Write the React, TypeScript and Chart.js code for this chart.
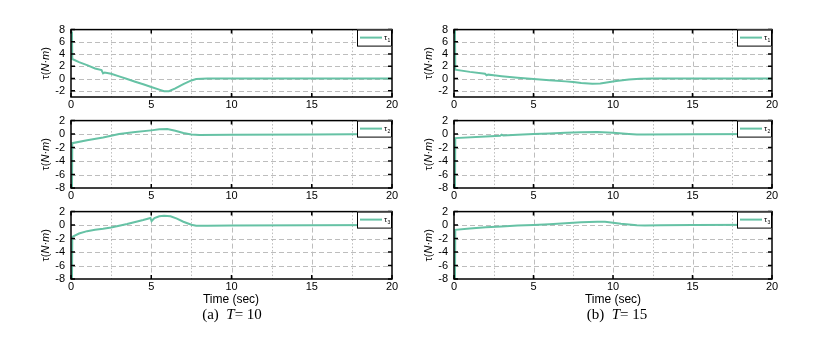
import React, { useEffect, useRef } from "react";
import { Chart, registerables } from "chart.js";
Chart.register(...registerables);

// ---- data ----
const X_TICKS = [0, 5, 10, 15, 20];
const X_GRID = [2.5, 5, 7.5, 10, 12.5, 15, 17.5];
const Y_TICKS_TAU1 = [-2, 0, 2, 4, 6, 8];
const Y_TICKS_TAU23 = [-8, -6, -4, -2, 0, 2];

// T = 10
const T10_TAU1_TIME = [0.06, 0.08, 0.5, 1, 1.5, 1.9, 2.0, 2.1, 2.5, 3, 3.5, 4, 4.5, 5, 5.5, 5.8, 6.1, 6.5, 7, 7.5, 7.8, 8.5, 10, 15, 20];
const T10_TAU1_VAL = [7.7, 3.2, 2.7, 2.2, 1.65, 1.4, 0.85, 1.0, 0.8, 0.37, -0.06, -0.5, -0.93, -1.36, -1.8, -2.05, -2.05, -1.6, -0.9, -0.3, -0.05, 0.0, 0.0, 0.0, 0.0];

const T10_TAU2_TIME = [0.06, 0.08, 1, 2, 3, 4, 5, 5.5, 6, 6.5, 7, 7.5, 8, 10, 15, 20];
const T10_TAU2_VAL = [-8.6, -1.35, -0.9, -0.5, 0.0, 0.3, 0.55, 0.7, 0.75, 0.5, 0.15, -0.05, -0.12, -0.1, -0.05, 0.0];

const T10_TAU3_TIME = [0.06, 0.08, 0.5, 1, 1.5, 2, 2.5, 3, 3.5, 4, 4.5, 4.95, 5.02, 5.2, 5.5, 5.8, 6.2, 6.6, 7, 7.5, 7.8, 8.5, 10, 15, 20];
const T10_TAU3_VAL = [-8.6, -1.75, -1.25, -0.9, -0.7, -0.55, -0.35, -0.1, 0.15, 0.45, 0.75, 1.05, 0.6, 1.05, 1.3, 1.4, 1.3, 0.95, 0.5, 0.05, -0.1, -0.1, -0.08, -0.03, 0.0];

// T = 15
const T15_TAU1_TIME = [0.06, 0.08, 1, 1.95, 2.05, 2.15, 2.5, 3, 4, 5, 6, 7, 7.5, 8, 8.7, 9.2, 9.7, 10.2, 11, 11.7, 12.5, 15, 20];
const T15_TAU1_VAL = [8.2, 1.45, 1.1, 0.8, 0.55, 0.65, 0.55, 0.4, 0.15, -0.05, -0.25, -0.45, -0.57, -0.7, -0.82, -0.8, -0.6, -0.4, -0.15, -0.03, 0.0, 0.0, 0.0];

const T15_TAU2_TIME = [0.06, 0.08, 2, 2.9, 3.0, 3.1, 4, 5, 6, 7, 8, 9, 10, 11, 11.5, 12, 15, 20];
const T15_TAU2_VAL = [-8.6, -0.6, -0.35, -0.25, -0.08, -0.22, -0.1, 0.0, 0.1, 0.2, 0.27, 0.3, 0.2, 0.02, -0.05, -0.05, -0.03, 0.0];

const T15_TAU3_TIME = [0.06, 0.08, 1, 2, 3, 4, 5, 6, 7, 8, 9, 9.5, 10, 10.5, 11, 11.5, 12, 13, 15, 20];
const T15_TAU3_VAL = [-8.6, -0.7, -0.5, -0.33, -0.2, -0.08, 0.0, 0.12, 0.28, 0.42, 0.5, 0.48, 0.35, 0.2, 0.08, -0.02, -0.05, -0.03, 0.0, 0.05];

const LINE_COLOR = "#66c2a5";
const FONT = "'Liberation Sans', Arial, sans-serif";

type PanelCfg = {
  left: number;
  top: number;
  times: number[];
  vals: number[];
  yMin: number;
  yMax: number;
  yTicks: number[];
  sub: string;
};

const COL_LEFT = [0, 383];
const ROW_TOP = [25, 116, 207];
const PAD_RIGHT = [18, 21];

const PANELS: PanelCfg[] = [
  { left: 0, top: 0, times: T10_TAU1_TIME, vals: T10_TAU1_VAL, yMin: -3, yMax: 8, yTicks: Y_TICKS_TAU1, sub: "1" },
  { left: 0, top: 1, times: T10_TAU2_TIME, vals: T10_TAU2_VAL, yMin: -8, yMax: 2, yTicks: Y_TICKS_TAU23, sub: "2" },
  { left: 0, top: 2, times: T10_TAU3_TIME, vals: T10_TAU3_VAL, yMin: -8, yMax: 2, yTicks: Y_TICKS_TAU23, sub: "3" },
  { left: 1, top: 0, times: T15_TAU1_TIME, vals: T15_TAU1_VAL, yMin: -3, yMax: 8, yTicks: Y_TICKS_TAU1, sub: "1" },
  { left: 1, top: 1, times: T15_TAU2_TIME, vals: T15_TAU2_VAL, yMin: -8, yMax: 2, yTicks: Y_TICKS_TAU23, sub: "2" },
  { left: 1, top: 2, times: T15_TAU3_TIME, vals: T15_TAU3_VAL, yMin: -8, yMax: 2, yTicks: Y_TICKS_TAU23, sub: "3" },
];

const CANVAS_W = 410;
const CANVAS_H = 100;
const PAD_TOP = 8;
const X_AXIS_H = 20;
const Y_AXIS_W = 71;

function Panel({ cfg }: { cfg: PanelCfg }) {
  const ref = useRef<HTMLCanvasElement | null>(null);
  useEffect(() => {
    if (!ref.current) return;
    const padRight = PAD_RIGHT[cfg.left];
    const decor = {
      id: "decor",
      beforeDatasetsDraw(chart: any) {
        const { ctx, chartArea: a, scales } = chart;
        const xs = scales.x, ys = scales.y;
        ctx.save();
        ctx.beginPath();
        ctx.rect(a.left, a.top, a.right - a.left, a.bottom - a.top);
        ctx.clip();
        ctx.strokeStyle = "#bdbdbd";
        ctx.lineWidth = 1;
        // horizontal grid
        ctx.setLineDash([5, 3]);
        cfg.yTicks.forEach((v) => {
          if (v <= cfg.yMin || v >= cfg.yMax) return;
          const y = Math.round(ys.getPixelForValue(v)) + 0.5;
          ctx.beginPath();
          ctx.moveTo(a.left, y);
          ctx.lineTo(a.right, y);
          ctx.stroke();
        });
        // vertical grid
        X_GRID.forEach((v) => {
          const major = v % 5 === 0;
          ctx.setLineDash(major ? [5, 3] : [1.5, 2]);
          const x = Math.round(xs.getPixelForValue(v)) + 0.5;
          ctx.beginPath();
          ctx.moveTo(x, a.top);
          ctx.lineTo(x, a.bottom);
          ctx.stroke();
        });
        ctx.restore();
      },
      afterDraw(chart: any) {
        const { ctx, chartArea: a, scales } = chart;
        const xs = scales.x, ys = scales.y;
        ctx.save();
        ctx.setLineDash([]);
        ctx.strokeStyle = "#000";
        ctx.lineWidth = 1.5;
        // inward ticks
        const tl = 4;
        ctx.beginPath();
        X_TICKS.forEach((v) => {
          const x = xs.getPixelForValue(v);
          ctx.moveTo(x, a.bottom);
          ctx.lineTo(x, a.bottom - tl);
          ctx.moveTo(x, a.top);
          ctx.lineTo(x, a.top + tl);
        });
        cfg.yTicks.forEach((v) => {
          const y = ys.getPixelForValue(v);
          ctx.moveTo(a.left, y);
          ctx.lineTo(a.left + tl, y);
          ctx.moveTo(a.right, y);
          ctx.lineTo(a.right - tl, y);
        });
        ctx.stroke();
        // border
        ctx.strokeRect(a.left, a.top, a.right - a.left, a.bottom - a.top);

        // legend
        const bw = 35, bh = 17;
        const bx = a.right - bw, by = a.top;
        ctx.fillStyle = "#fff";
        ctx.fillRect(bx, by, bw, bh);
        ctx.lineWidth = 1;
        ctx.strokeStyle = "#000";
        ctx.strokeRect(bx + 0.5, by + 0.5, bw - 1, bh - 1);
        ctx.strokeStyle = LINE_COLOR;
        ctx.lineWidth = 2;
        ctx.beginPath();
        ctx.moveTo(bx + 3, by + 8);
        ctx.lineTo(bx + 25, by + 8);
        ctx.stroke();
        ctx.fillStyle = "#000";
        ctx.textBaseline = "alphabetic";
        ctx.textAlign = "left";
        ctx.font = `8px ${FONT}`;
        ctx.fillText("τ", bx + 27, by + 10.5);
        ctx.font = `5px ${FONT}`;
        ctx.fillText(cfg.sub, bx + 30.5, by + 12);

        // y-axis title
        const parts: [string, boolean][] = [["τ(", false], ["N", true], ["·", false], ["m", true], [")", false]];
        const size = 11;
        let total = 0;
        const widths = parts.map(([t, it]) => {
          ctx.font = `${it ? "italic " : ""}${size}px ${FONT}`;
          const w = ctx.measureText(t).width;
          total += w;
          return w;
        });
        ctx.translate(a.left - 25, (a.top + a.bottom) / 2);
        ctx.rotate(-Math.PI / 2);
        ctx.textBaseline = "middle";
        let px = -total / 2;
        parts.forEach(([t, it], i) => {
          ctx.font = `${it ? "italic " : ""}${size}px ${FONT}`;
          ctx.fillText(t, px, 0);
          px += widths[i];
        });
        ctx.restore();
      },
    };

    const chart = new Chart(ref.current, {
      type: "line",
      data: {
        datasets: [
          {
            label: "τ" + cfg.sub,
            data: cfg.times.map((t, i) => ({ x: t, y: cfg.vals[i] })),
            borderColor: LINE_COLOR,
            backgroundColor: LINE_COLOR,
            borderWidth: 2,
            pointRadius: 0,
            tension: 0,
            fill: false,
          },
        ],
      },
      options: {
        animation: false,
        responsive: false,
        events: [],
        layout: { padding: { top: PAD_TOP, right: padRight, left: 0, bottom: 0 } },
        plugins: { legend: { display: false }, tooltip: { enabled: false } },
        scales: {
          x: {
            type: "linear",
            min: 0,
            max: 20,
            afterBuildTicks: (s: any) => {
              s.ticks = X_TICKS.map((v) => ({ value: v }));
            },
            afterFit: (s: any) => {
              s.height = X_AXIS_H;
            },
            grid: { display: false, drawTicks: false },
            border: { display: false },
            ticks: {
              padding: 1,
              maxRotation: 0,
              autoSkip: false,
              color: "#000",
              font: { family: FONT, size: 11 },
            },
          },
          y: {
            type: "linear",
            min: cfg.yMin,
            max: cfg.yMax,
            afterBuildTicks: (s: any) => {
              s.ticks = cfg.yTicks.map((v) => ({ value: v }));
            },
            afterFit: (s: any) => {
              s.width = Y_AXIS_W;
            },
            grid: { display: false, drawTicks: false },
            border: { display: false },
            ticks: {
              padding: 6,
              autoSkip: false,
              color: "#000",
              font: { family: FONT, size: 11 },
            },
          },
        },
      },
      plugins: [decor],
    });
    return () => chart.destroy();
  }, [cfg]);

  return (
    <canvas
      ref={ref}
      width={CANVAS_W}
      height={CANVAS_H}
      style={{
        position: "absolute",
        left: COL_LEFT[cfg.left],
        top: ROW_TOP[cfg.top] - PAD_TOP,
        width: CANVAS_W,
        height: CANVAS_H,
      }}
    />
  );
}

export default function App() {
  const textStyle: React.CSSProperties = {
    position: "absolute",
    transform: "translate(-50%, -50%)",
    whiteSpace: "nowrap",
    color: "#000",
    lineHeight: 1,
  };
  return (
    <div style={{ position: "absolute", left: 0, top: 0, width: 832, height: 337, background: "#fff", overflow: "hidden" }}>
      {PANELS.map((p, i) => (
        <Panel key={i} cfg={p} />
      ))}
      <div style={{ ...textStyle, left: 231, top: 299, fontFamily: FONT, fontSize: 12 }}>Time (sec)</div>
      <div style={{ ...textStyle, left: 613, top: 299, fontFamily: FONT, fontSize: 12 }}>Time (sec)</div>
      <div style={{ ...textStyle, left: 232, top: 314, fontFamily: "'Liberation Serif', serif", fontSize: 15 }}>
        (a)&nbsp;&nbsp;<i>T</i>=&nbsp;10
      </div>
      <div style={{ ...textStyle, left: 617, top: 314, fontFamily: "'Liberation Serif', serif", fontSize: 15 }}>
        (b)&nbsp;&nbsp;<i>T</i>=&nbsp;15
      </div>
    </div>
  );
}
